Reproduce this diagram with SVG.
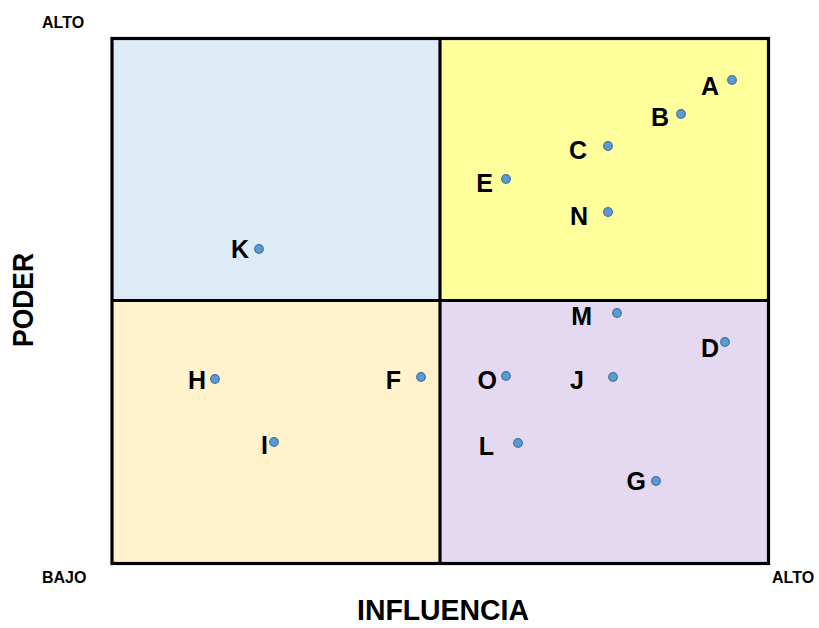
<svg xmlns="http://www.w3.org/2000/svg" width="819" height="628" viewBox="0 0 819 628">
<style>
.lbl{font-family:"Liberation Sans",Arial,sans-serif;font-weight:bold;font-size:25px;fill:#000;text-anchor:end}
.ax{font-family:"Liberation Sans",Arial,sans-serif;font-weight:bold;font-size:16px;fill:#000}
.title{font-family:"Liberation Sans",Arial,sans-serif;font-weight:bold;font-size:30px;fill:#000;text-anchor:middle}
.dot{fill:#5B9BD5;stroke:#41719C;stroke-width:1.2}
.q{stroke:none}
</style>
<rect width="819" height="628" fill="#FFFFFF"/>
<g id="quadrants">
<rect class="q" x="112" y="38.5" width="328" height="262" fill="#DDEBF7"/>
<rect class="q" x="440" y="38.5" width="328.5" height="262" fill="#FFFF9B"/>
<rect class="q" x="112" y="300.5" width="328" height="263" fill="#FFF2CC"/>
<rect class="q" x="440" y="300.5" width="328.5" height="263" fill="#E5D9F1"/>
</g>
<g id="grid" stroke="#000" stroke-width="3.2" fill="none">
<rect x="112" y="38.5" width="656.5" height="525"/>
<line x1="440" y1="38.5" x2="440" y2="563.5"/>
<line x1="112" y1="300.5" x2="768.5" y2="300.5"/>
</g>
<g id="axes">
<text class="ax" x="42" y="28">ALTO</text>
<text class="ax" x="42" y="583">BAJO</text>
<text class="ax" x="772" y="583">ALTO</text>
<text class="title" x="443" y="620" style="font-size:29px" textLength="172" lengthAdjust="spacingAndGlyphs">INFLUENCIA</text>
<text class="title" transform="translate(33,300) rotate(-90)" x="0" y="0" textLength="94" lengthAdjust="spacingAndGlyphs">PODER</text>
</g>
<g id="node-A"><circle class="dot" cx="732" cy="80" r="4.3"/><text class="lbl" x="719" y="95">A</text></g>
<g id="node-B"><circle class="dot" cx="681" cy="114" r="4.3"/><text class="lbl" x="669" y="126">B</text></g>
<g id="node-C"><circle class="dot" cx="608" cy="146" r="4.3"/><text class="lbl" x="587" y="159">C</text></g>
<g id="node-E"><circle class="dot" cx="506" cy="179" r="4.3"/><text class="lbl" x="493" y="192">E</text></g>
<g id="node-N"><circle class="dot" cx="608" cy="212" r="4.3"/><text class="lbl" x="588" y="225">N</text></g>
<g id="node-K"><circle class="dot" cx="259" cy="249" r="4.3"/><text class="lbl" x="249" y="258">K</text></g>
<g id="node-M"><circle class="dot" cx="617" cy="313" r="4.3"/><text class="lbl" x="592" y="325">M</text></g>
<g id="node-D"><circle class="dot" cx="725" cy="342" r="4.3"/><text class="lbl" x="719" y="357">D</text></g>
<g id="node-H"><circle class="dot" cx="215" cy="379" r="4.3"/><text class="lbl" x="206" y="389">H</text></g>
<g id="node-F"><circle class="dot" cx="421" cy="377" r="4.3"/><text class="lbl" x="401" y="389">F</text></g>
<g id="node-O"><circle class="dot" cx="506" cy="376" r="4.3"/><text class="lbl" x="497" y="389">O</text></g>
<g id="node-J"><circle class="dot" cx="613" cy="377" r="4.3"/><text class="lbl" x="584" y="389">J</text></g>
<g id="node-I"><circle class="dot" cx="274" cy="442" r="4.3"/><text class="lbl" x="268" y="454">I</text></g>
<g id="node-L"><circle class="dot" cx="518" cy="443" r="4.3"/><text class="lbl" x="494" y="455">L</text></g>
<g id="node-G"><circle class="dot" cx="656" cy="481" r="4.3"/><text class="lbl" x="646" y="490">G</text></g>
<g id="connectors"/>
</svg>
